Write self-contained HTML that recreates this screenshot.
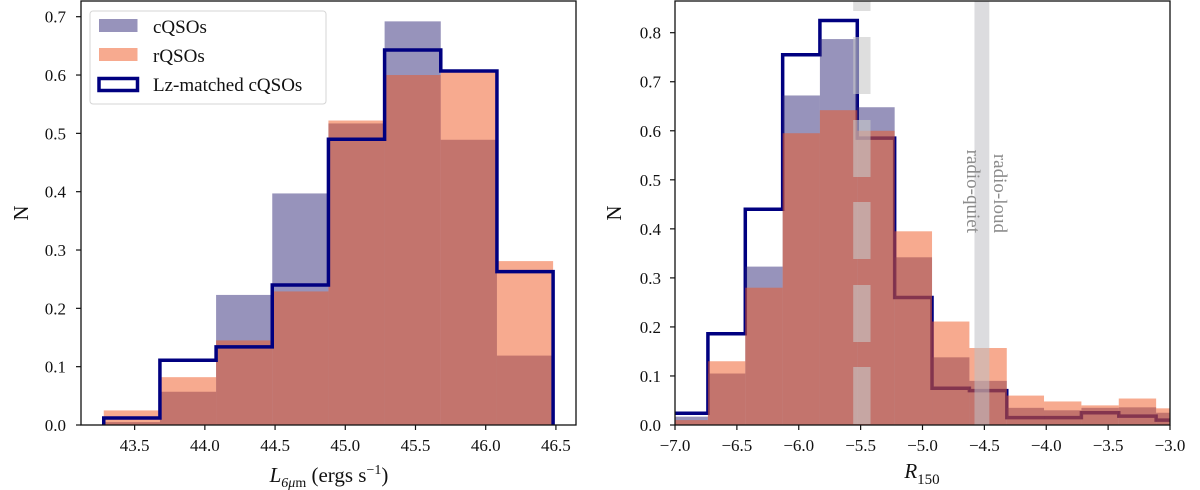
<!DOCTYPE html>
<html><head><meta charset="utf-8"><style>
body{margin:0;background:#fff;}
svg{display:block;font-family:"Liberation Serif",serif;}
</style></head><body>
<svg id="fig" width="1200" height="490" viewBox="0 0 1200 490"></svg>
<script>
// Left panel data
const leftEdges = [43.28,43.68,44.08,44.48,44.88,45.28,45.68,46.08,46.48];
const leftCQSO = [0.005,0.057,0.223,0.397,0.517,0.692,0.489,0.119];
const leftRQSO = [0.025,0.082,0.145,0.229,0.522,0.600,0.607,0.281];
const leftLz = [0.012,0.111,0.134,0.240,0.490,0.643,0.607,0.263];
const leftXTicks = [43.5,44.0,44.5,45.0,45.5,46.0,46.5];
const leftYTicks = [0,0.1,0.2,0.3,0.4,0.5,0.6,0.7];
// Right panel data
const rightEdges = [-7.036,-6.734,-6.432,-6.130,-5.829,-5.527,-5.225,-4.923,-4.621,-4.319,-4.018,-3.716,-3.414,-3.112,-2.810];
const rightCQSO = [0.017,0.105,0.323,0.672,0.787,0.648,0.342,0.138,0.090,0.035,0.030,0.035,0.036,0.025];
const rightRQSO = [0.010,0.130,0.280,0.595,0.642,0.600,0.395,0.211,0.157,0.060,0.048,0.040,0.054,0.034];
const rightLz = [0.024,0.186,0.440,0.755,0.825,0.585,0.260,0.075,0.070,0.015,0.015,0.025,0.018,0.010];
const rightXTicks = [-7.0,-6.5,-6.0,-5.5,-5.0,-4.5,-4.0,-3.5,-3.0];
const rightYTicks = [0,0.1,0.2,0.3,0.4,0.5,0.6,0.7,0.8];
const quietBand = [-5.56,-5.42];
const loudBand = [-4.58,-4.46];

const NS="http://www.w3.org/2000/svg";
const svg=document.getElementById('fig');
function mk(tag,attrs,parent){const e=document.createElementNS(NS,tag);for(const k in attrs)e.setAttribute(k,attrs[k]);(parent||svg).appendChild(e);return e;}

function panel(cfg){
  const g=mk('g',{});
  
  
  const X=v=>cfg.x0+(v-cfg.xmin)/(cfg.xmax-cfg.xmin)*(cfg.x1-cfg.x0);
  const Y=v=>cfg.y0-(v-cfg.ymin)/(cfg.ymax-cfg.ymin)*(cfg.y0-cfg.y1);
  const clipId=cfg.name+'-clip';
  const cp=mk('clipPath',{id:clipId},g);
  mk('rect',{x:cfg.x0,y:cfg.y1,width:cfg.x1-cfg.x0,height:cfg.y0-cfg.y1},cp);
  const plot=mk('g',{'clip-path':'url(#'+clipId+')'},g);
  const lzPath=()=>{
    let d='M'+X(cfg.edges[0])+','+Y(0);
    cfg.lz.forEach((v,i)=>{d+=' L'+X(cfg.edges[i])+','+Y(v)+' L'+X(cfg.edges[i+1])+','+Y(v);});
    d+=' L'+X(cfg.edges[cfg.edges.length-1])+','+Y(0);
    const p=mk('path',{d:d,fill:'none',stroke:'#000080','stroke-width':3.5,'stroke-linejoin':'miter'},plot);
    
    
  };
  if(cfg.lineUnder) lzPath();
  cfg.cq.forEach((v,i)=>{
    const r=mk('rect',{x:X(cfg.edges[i]),y:Y(v),width:X(cfg.edges[i+1])-X(cfg.edges[i]),height:Y(0)-Y(v),fill:'rgb(47,39,119)','fill-opacity':0.5},plot);
    
    
  });
  cfg.rq.forEach((v,i)=>{
    const r=mk('rect',{x:X(cfg.edges[i]),y:Y(v),width:X(cfg.edges[i+1])-X(cfg.edges[i]),height:Y(0)-Y(v),fill:'rgb(239,85,31)','fill-opacity':0.5},plot);
    
    
  });
  if(!cfg.lineUnder) lzPath();
  if(cfg.bands){
    const segs=[[0,11],[37,94],[120,177],[202,259],[285,342],[367,424]];
    segs.forEach(s=>{
      const r=mk('rect',{x:X(quietBand[0]),y:s[0],width:X(quietBand[1])-X(quietBand[0]),height:s[1]-s[0],fill:'#c8c8c8','fill-opacity':0.6},plot);
      
      
    });
    const lb=mk('rect',{x:X(loudBand[0]),y:cfg.y1,width:X(loudBand[1])-X(loudBand[0]),height:cfg.y0-cfg.y1,fill:'#c0c0c4','fill-opacity':0.55},plot);
    
    
    const t1=mk('text',{x:0,y:0,transform:'translate(967,233) rotate(90)','text-anchor':'end','font-size':19,fill:'#8c8c8c'},g);
    t1.textContent='radio-quiet';
    
    
    const t2=mk('text',{x:0,y:0,transform:'translate(994,233) rotate(90)','text-anchor':'end','font-size':19,fill:'#8c8c8c'},g);
    t2.textContent='radio-loud';
    
    
  }
  const frame=mk('rect',{x:cfg.x0,y:cfg.y1,width:cfg.x1-cfg.x0,height:cfg.y0-cfg.y1,fill:'none',stroke:'#111','stroke-width':1.3},g);
  
  
  cfg.xt.forEach(v=>{
    mk('line',{x1:X(v),x2:X(v),y1:cfg.y0,y2:cfg.y0+5,stroke:'#111','stroke-width':1.2},g);
    const t=mk('text',{x:X(v),y:cfg.y0+26,'text-anchor':'middle','font-size':17,fill:'#111'},g);
    t.textContent=(v<0?'\u2212':'')+Math.abs(v).toFixed(1);
    
    
  });
  cfg.yt.forEach(v=>{
    mk('line',{x1:cfg.x0-5,x2:cfg.x0,y1:Y(v),y2:Y(v),stroke:'#111','stroke-width':1.2},g);
    const t=mk('text',{x:cfg.ylabX,y:Y(v)+6,'text-anchor':'end','font-size':17,fill:'#111'},g);
    t.textContent=v.toFixed(1);
    
    
  });
  const yl=mk('text',{x:0,y:0,transform:'translate('+cfg.nX+',213) rotate(-90)','text-anchor':'middle','font-size':21,fill:'#111'},g);
  yl.textContent='N';
  
  
  return {g,X,Y};
}

panel({name:'left-panel',x0:81,x1:576,y0:425,y1:1,xmin:43.118,xmax:46.643,ymin:0,ymax:0.7*(424/408.3),
  edges:leftEdges,cq:leftCQSO,rq:leftRQSO,lz:leftLz,xt:leftXTicks,yt:leftYTicks,ylabX:66,nX:28,lineUnder:false});
panel({name:'right-panel',x0:675,x1:1170,y0:425,y1:1,xmin:-7,xmax:-3,ymin:0,ymax:0.8*424/392.3,
  edges:rightEdges,cq:rightCQSO,rq:rightRQSO,lz:rightLz,xt:rightXTicks,yt:rightYTicks,ylabX:661,nX:621,lineUnder:true,bands:true});

const xl1=mk('text',{x:329,y:482,'text-anchor':'middle','font-size':21,fill:'#111'});
xl1.innerHTML='<tspan font-style="italic">L</tspan><tspan font-size="14" dy="5"><tspan font-style="italic">6μ</tspan>m</tspan><tspan dy="-5"> (ergs s</tspan><tspan font-size="14" dy="-8">−1</tspan><tspan dy="8">)</tspan>';


const xl2=mk('text',{x:922,y:478,'text-anchor':'middle','font-size':21,fill:'#111'});
xl2.innerHTML='<tspan font-style="italic">R</tspan><tspan font-size="15" dy="6">150</tspan>';



const lg=mk('g',{});


mk('rect',{x:90,y:11,width:236,height:93,rx:3,fill:'#fff','fill-opacity':0.85,stroke:'#d5d5d5','stroke-width':1},lg);
const e1=mk('rect',{x:99,y:19,width:38.5,height:13,fill:'rgb(47,39,119)','fill-opacity':0.5},lg);


const e2=mk('rect',{x:99,y:48,width:38.5,height:13,fill:'rgb(239,85,31)','fill-opacity':0.5},lg);


const e3=mk('rect',{x:99,y:78.5,width:38.5,height:12,fill:'none',stroke:'#000080','stroke-width':3.5},lg);


[['cQSOs',33],['rQSOs',62],['Lz-matched cQSOs',91]].forEach(a=>{
  const t=mk('text',{x:153,y:a[1],'font-size':19,fill:'#111'},lg);
  t.textContent=a[0];
  
  
});
</script>
</body></html>
